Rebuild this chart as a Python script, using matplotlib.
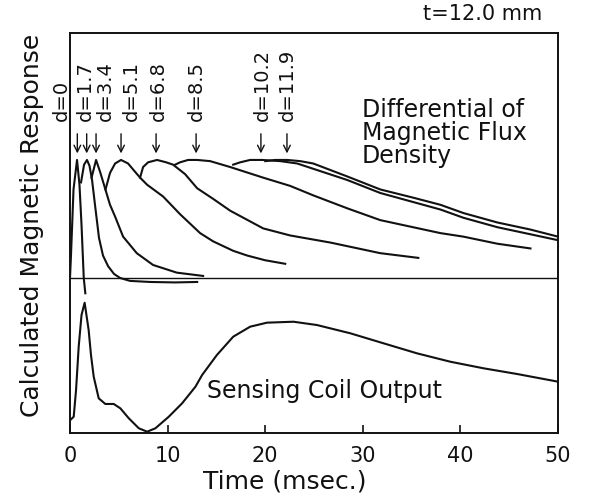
# calculated magnetic response for a plate, t = 12.0 mm
import matplotlib.pyplot as plt
import matplotlib.transforms as mtransforms

plt.rcParams['font.family'] = ['DejaVu Sans']

# differential of magnetic flux density, peak-normalised, one trace per depth d (mm)
depths = ['0', '1.7', '3.4', '5.1', '6.8', '8.5', '10.2', '11.9']

t_d0 = [0, 0.10, 0.36, 0.72, 0.97, 1.18, 1.41, 1.57]
v_d0 = [0, 0.19, 0.75, 1.0, 0.79, 0.45, 0, -0.13]

t_d17 = [1.13, 1.44, 1.74, 2.0, 2.26, 2.56, 2.97, 3.38, 3.9, 4.51, 5.13, 6.15, 8.2, 10.77, 13.03]
v_d17 = [0.81, 0.96, 1.0, 0.95, 0.83, 0.62, 0.34, 0.19, 0.10, 0.034, 0, -0.025, -0.034, -0.038, -0.034]

t_d34 = [2.21, 2.67, 3.08, 3.59, 4.10, 4.62, 5.44, 6.84, 8.51, 10.94, 13.64]
v_d34 = [0.85, 1.0, 0.90, 0.76, 0.62, 0.52, 0.35, 0.21, 0.11, 0.045, 0.017]

t_d51 = [3.64, 4.10, 4.62, 5.23, 5.95, 6.56, 7.18, 7.90, 9.54, 11.28, 13.33, 14.67, 16.72, 18.15, 19.99, 22.05]
v_d51 = [0.75, 0.89, 0.97, 1.0, 0.97, 0.91, 0.85, 0.79, 0.69, 0.54, 0.38, 0.31, 0.23, 0.19, 0.15, 0.12]

t_d68 = [7.18, 7.49, 8.0, 8.92, 9.85, 10.56, 11.79, 13.03, 14.67, 16.41, 19.79, 22.56, 26.67, 31.79, 35.69]
v_d68 = [0.85, 0.94, 0.98, 1.0, 0.98, 0.96, 0.88, 0.76, 0.67, 0.57, 0.42, 0.36, 0.30, 0.21, 0.17]

t_d85 = [10.77, 11.28, 12.1, 13.03, 14.36, 16.41, 19.79, 22.56, 24.92, 28.41, 31.79, 37.95, 40.31, 43.79, 47.18]
v_d85 = [0.96, 0.98, 1.0, 1.0, 0.99, 0.94, 0.85, 0.78, 0.70, 0.59, 0.49, 0.38, 0.35, 0.29, 0.25]

t_d102 = [16.72, 17.44, 18.46, 19.69, 21.54, 23.28, 28.41, 31.79, 37.95, 40.31, 43.79, 47.18, 50]
v_d102 = [0.96, 0.98, 1.0, 1.0, 0.99, 0.97, 0.83, 0.72, 0.58, 0.51, 0.43, 0.37, 0.32]

t_d119 = [20.0, 21.03, 22.26, 23.59, 24.92, 28.41, 31.79, 35.18, 37.95, 40.31, 43.79, 47.18, 50]
v_d119 = [0.99, 1.0, 1.0, 0.99, 0.97, 0.86, 0.75, 0.68, 0.62, 0.55, 0.47, 0.41, 0.35]

# time of each peak (arrow positions)
peak_times = [0.75, 1.71, 2.67, 5.23, 8.82, 12.92, 19.56, 22.23]

# sensing coil output
t_coil = [0.03, 0.38, 0.62, 0.89, 1.18, 1.5, 1.91, 2.15, 2.43, 2.94, 3.62, 4.48, 5.16, 6.02,
          7.05, 7.9, 8.75, 10.12, 11.49, 12.85, 13.54, 15.05, 16.72, 18.46, 20.18, 22.9,
          25.3, 28.72, 32.13, 35.56, 38.97, 42.39, 45.81, 50]
v_coil = [0.11, 0.138, 0.364, 0.731, 1.0, 1.104, 0.873, 0.661, 0.477, 0.294, 0.246, 0.246,
          0.209, 0.125, 0.04, 0.011, 0.04, 0.138, 0.252, 0.392, 0.492, 0.661, 0.816, 0.901,
          0.935, 0.943, 0.915, 0.845, 0.76, 0.675, 0.604, 0.548, 0.5, 0.435]

flux_t = [t_d0, t_d17, t_d34, t_d51, t_d68, t_d85, t_d102, t_d119]
flux_v = [v_d0, v_d17, v_d34, v_d51, v_d68, v_d85, v_d102, v_d119]

base = 1.314      # zero line of the upper traces
label_x = [-0.92, 1.54, 3.59, 6.33, 9.06, 12.99, 19.66, 22.23]

fig = plt.figure(figsize=(5.9, 4.96), dpi=100)
ax = fig.add_axes([70/590, 63/496, 488/590, 400/496])
lc = '#111111'

for t, v in zip(flux_t, flux_v):
    ax.plot(t, [base + y for y in v], color=lc, lw=1.5, solid_joinstyle='round')
ax.axhline(base, color=lc, lw=1.0)
ax.plot(t_coil, v_coil, color=lc, lw=1.5, solid_joinstyle='round')

trans = mtransforms.blended_transform_factory(ax.transData, ax.transAxes)
for d, xt, pt in zip(depths, label_x, peak_times):
    ax.text(xt, 0.78, 'd=' + d, rotation=90, ha='center', va='bottom',
            fontsize=14, transform=trans, color=lc)
    ax.annotate('', xy=(pt, 0.692), xytext=(pt, 0.755), xycoords=trans, textcoords=trans,
                arrowprops=dict(arrowstyle='->', color=lc, lw=1.0, mutation_scale=12))

ax.text(0.598, 0.75, 'Differential of\nMagnetic Flux\nDensity', transform=ax.transAxes,
        fontsize=17, ha='left', va='center', color=lc, linespacing=0.95)
ax.text(0.281, 0.105, 'Sensing Coil Output', transform=ax.transAxes, fontsize=17,
        ha='left', va='center', color=lc)
fig.text(542/590, 1 - 14/496, 't=12.0 mm', ha='right', va='center', fontsize=15, color=lc)

ax.set_xlim(0, 50)
ax.set_ylim(0, 400/118)
ax.set_xticks([0, 10, 20, 30, 40, 50])
ax.set_yticks([])
ax.tick_params(axis='x', direction='in', length=6, width=1.2, labelsize=15, pad=9, colors=lc)
for s in ax.spines.values():
    s.set_linewidth(1.4)
    s.set_color(lc)

ax.text(0.441, -0.12, 'Time (msec.)', transform=ax.transAxes, fontsize=18,
        ha='center', va='center', color=lc)
ax.text(-0.078, 0.52, 'Calculated Magnetic Response', transform=ax.transAxes, fontsize=18,
        rotation=90, ha='center', va='center', color=lc)

fig.savefig('out.png', dpi=100)
